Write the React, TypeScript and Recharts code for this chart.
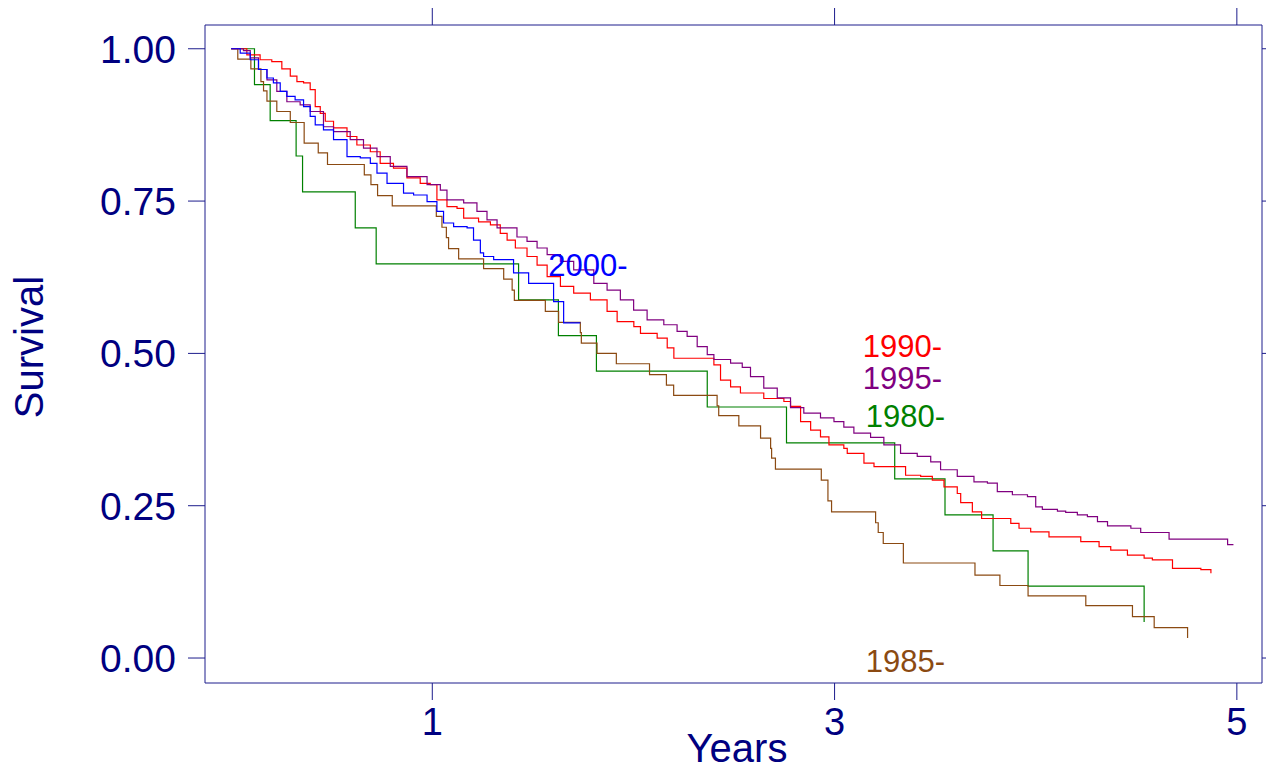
import React from "react";
import { LineChart, Line, XAxis, YAxis, ReferenceDot, Label } from "recharts";

const NAVY = "#000080";
const FRAME = "#1c1c8c";
const FONT = "'Liberation Sans', Arial, sans-serif";

// Kaplan-Meier steps per diagnosis cohort: time in years, survival fraction
const T_1980 = [0, 0.116, 0.194, 0.323, 0.355, 0.617, 0.721, 1.429, 1.627, 1.816, 2.367, 2.761, 3.299, 3.549, 3.788, 3.962, 4.539];
const S_1980 = [1, 0.941, 0.882, 0.824, 0.765, 0.706, 0.647, 0.588, 0.529, 0.471, 0.412, 0.353, 0.294, 0.235, 0.176, 0.118, 0.059];

const T_1985 = [0, 0.033, 0.098, 0.148, 0.161, 0.178, 0.227, 0.294, 0.363, 0.433, 0.479, 0.662, 0.695, 0.728, 0.801, 1.02, 1.048, 1.07, 1.081, 1.131, 1.255, 1.355, 1.397, 1.408, 1.562, 1.628, 1.736, 1.741, 1.819, 1.915, 2.08, 2.164, 2.2, 2.416, 2.424, 2.524, 2.632, 2.682, 2.687, 2.706, 2.934, 2.967, 2.985, 3.204, 3.217, 3.242, 3.342, 3.698, 3.822, 3.962, 4.249, 4.481, 4.589, 4.755];
const S_1985 = [1, 0.983, 0.967, 0.946, 0.931, 0.914, 0.897, 0.879, 0.845, 0.829, 0.81, 0.793, 0.777, 0.759, 0.742, 0.725, 0.707, 0.69, 0.672, 0.655, 0.639, 0.622, 0.604, 0.587, 0.569, 0.551, 0.534, 0.517, 0.5, 0.483, 0.465, 0.448, 0.431, 0.414, 0.398, 0.381, 0.361, 0.344, 0.328, 0.31, 0.292, 0.258, 0.24, 0.222, 0.206, 0.188, 0.156, 0.136, 0.119, 0.102, 0.086, 0.068, 0.05, 0.033];

const T_1990 = [0, 0.078, 0.144, 0.202, 0.252, 0.294, 0.327, 0.36, 0.393, 0.418, 0.443, 0.468, 0.509, 0.576, 0.625, 0.692, 0.741, 0.807, 0.874, 0.94, 0.99, 1.023, 1.073, 1.123, 1.156, 1.23, 1.289, 1.338, 1.372, 1.413, 1.471, 1.521, 1.571, 1.637, 1.703, 1.786, 1.869, 1.919, 2.002, 2.035, 2.118, 2.168, 2.201, 2.4, 2.433, 2.483, 2.532, 2.648, 2.748, 2.781, 2.831, 2.881, 2.93, 2.972, 3.046, 3.063, 3.146, 3.196, 3.353, 3.428, 3.486, 3.544, 3.61, 3.627, 3.685, 3.731, 3.876, 3.917, 3.975, 4.066, 4.224, 4.315, 4.373, 4.456, 4.539, 4.58, 4.68, 4.821, 4.871];
const S_1990 = [1, 0.99, 0.982, 0.979, 0.967, 0.955, 0.946, 0.944, 0.933, 0.905, 0.894, 0.881, 0.87, 0.856, 0.842, 0.831, 0.812, 0.804, 0.788, 0.779, 0.777, 0.752, 0.741, 0.738, 0.722, 0.716, 0.711, 0.697, 0.686, 0.673, 0.659, 0.645, 0.626, 0.61, 0.599, 0.588, 0.569, 0.552, 0.544, 0.533, 0.525, 0.509, 0.492, 0.481, 0.456, 0.445, 0.435, 0.426, 0.421, 0.413, 0.388, 0.374, 0.363, 0.35, 0.344, 0.336, 0.32, 0.314, 0.3, 0.298, 0.292, 0.281, 0.27, 0.255, 0.24, 0.229, 0.221, 0.213, 0.207, 0.199, 0.191, 0.183, 0.177, 0.169, 0.164, 0.161, 0.147, 0.145, 0.139];

const T_1995 = [0, 0.061, 0.095, 0.136, 0.178, 0.227, 0.277, 0.343, 0.393, 0.459, 0.509, 0.592, 0.658, 0.725, 0.791, 0.874, 0.974, 1.04, 1.073, 1.156, 1.222, 1.272, 1.322, 1.421, 1.471, 1.521, 1.571, 1.637, 1.703, 1.803, 1.869, 1.935, 2.001, 2.068, 2.151, 2.217, 2.267, 2.317, 2.367, 2.4, 2.483, 2.541, 2.582, 2.648, 2.715, 2.781, 2.847, 2.93, 2.997, 3.046, 3.096, 3.179, 3.245, 3.328, 3.411, 3.478, 3.527, 3.61, 3.693, 3.76, 3.809, 3.884, 3.959, 4.0, 4.033, 4.108, 4.149, 4.207, 4.257, 4.307, 4.357, 4.473, 4.522, 4.663, 4.954, 4.983];
const S_1995 = [1, 0.997, 0.985, 0.966, 0.949, 0.93, 0.913, 0.908, 0.897, 0.872, 0.864, 0.851, 0.837, 0.823, 0.807, 0.79, 0.777, 0.768, 0.752, 0.747, 0.733, 0.719, 0.706, 0.691, 0.684, 0.673, 0.662, 0.651, 0.637, 0.615, 0.604, 0.588, 0.571, 0.555, 0.547, 0.536, 0.528, 0.511, 0.498, 0.49, 0.484, 0.477, 0.462, 0.443, 0.427, 0.411, 0.402, 0.394, 0.388, 0.379, 0.369, 0.362, 0.35, 0.336, 0.331, 0.322, 0.309, 0.298, 0.289, 0.287, 0.273, 0.268, 0.265, 0.248, 0.244, 0.241, 0.239, 0.235, 0.232, 0.224, 0.217, 0.213, 0.206, 0.195, 0.186, 0.186];

const T_2000 = [0, 0.045, 0.095, 0.136, 0.178, 0.21, 0.244, 0.277, 0.318, 0.36, 0.393, 0.418, 0.459, 0.509, 0.576, 0.642, 0.692, 0.725, 0.775, 0.857, 0.907, 0.974, 1.023, 1.056, 1.106, 1.173, 1.205, 1.239, 1.255, 1.305, 1.404, 1.479, 1.603, 1.653, 1.736];
const S_2000 = [1, 0.993, 0.982, 0.966, 0.952, 0.944, 0.93, 0.922, 0.916, 0.905, 0.889, 0.875, 0.867, 0.851, 0.823, 0.821, 0.812, 0.796, 0.779, 0.763, 0.76, 0.749, 0.733, 0.714, 0.708, 0.706, 0.686, 0.665, 0.659, 0.654, 0.632, 0.615, 0.585, 0.55, 0.55];

const X_TICKS = [1, 3, 5];
const Y_TICKS = [0, 0.25, 0.5, 0.75, 1];
const X_DOMAIN: [number, number] = [-0.13, 5.125];
const Y_DOMAIN: [number, number] = [-0.041, 1.039];

const toPoints = (ts: number[], ss: number[]) => ts.map((t, i) => ({ t, s: ss[i] }));

const COHORTS = [
  { name: "1980-", color: "#008000", data: toPoints(T_1980, S_1980), labelAt: [3.155, 0.38] },
  { name: "1985-", color: "#8b4a12", data: toPoints(T_1985, S_1985), labelAt: [3.155, -0.023] },
  { name: "1990-", color: "#ff0000", data: toPoints(T_1990, S_1990), labelAt: [3.14, 0.494] },
  { name: "1995-", color: "#800080", data: toPoints(T_1995, S_1995), labelAt: [3.14, 0.441] },
  { name: "2000-", color: "#0000ff", data: toPoints(T_2000, S_2000), labelAt: [1.577, 0.627] },
];

const XTick = (props: any) => {
  const { x, y, payload } = props;
  return (
    <text x={x} y={y} dy="0.71em" textAnchor="middle" fill={NAVY} fontSize={38} fontFamily={FONT}>
      {payload.value}
    </text>
  );
};

const YTick = (props: any) => {
  const { x, y, payload } = props;
  return (
    <text x={x} y={y} dy="0.36em" textAnchor="end" fill={NAVY} fontSize={39} fontFamily={FONT}>
      {Number(payload.value).toFixed(2)}
    </text>
  );
};

// tick marks only, no text (top and right sides of the frame)
const NoText = () => <g />;

export default function App() {
  return (
    <div style={{ position: "absolute", left: 0, top: 0, background: "#fff" }}>
      <LineChart width={1266} height={767} margin={{ top: 0, right: 0, bottom: 0, left: 0 }}>
        <XAxis
          xAxisId="b"
          dataKey="t"
          type="number"
          domain={X_DOMAIN}
          allowDataOverflow
          ticks={X_TICKS}
          height={84}
          tickSize={17}
          tickMargin={8}
          stroke={FRAME}
          tick={<XTick />}
        >
          <Label
            content={() => (
              <text x={737} y={762} textAnchor="middle" fill={NAVY} fontSize={40} fontFamily={FONT}>
                Years
              </text>
            )}
          />
        </XAxis>
        <XAxis
          xAxisId="t"
          orientation="top"
          dataKey="t"
          type="number"
          domain={X_DOMAIN}
          allowDataOverflow
          ticks={X_TICKS}
          height={25}
          tickSize={17}
          stroke={FRAME}
          tick={<NoText />}
        />
        <YAxis
          yAxisId="l"
          type="number"
          domain={Y_DOMAIN}
          allowDataOverflow
          ticks={Y_TICKS}
          width={205}
          tickSize={17}
          tickMargin={12}
          stroke={FRAME}
          tick={<YTick />}
        >
          <Label
            content={() => (
              <text
                x={43}
                y={347}
                transform="rotate(-90 43 347)"
                textAnchor="middle"
                fill={NAVY}
                fontSize={40}
                fontFamily={FONT}
              >
                Survival
              </text>
            )}
          />
        </YAxis>
        <YAxis
          yAxisId="r"
          orientation="right"
          type="number"
          domain={Y_DOMAIN}
          allowDataOverflow
          ticks={Y_TICKS}
          width={4}
          tickSize={17}
          stroke={FRAME}
          tick={<NoText />}
        />
        {COHORTS.map((c) => (
          <Line
            key={c.name}
            xAxisId="b"
            yAxisId="l"
            data={c.data}
            dataKey="s"
            type="stepAfter"
            stroke={c.color}
            strokeWidth={1.2}
            dot={false}
            activeDot={false}
            isAnimationActive={false}
          />
        ))}
        {COHORTS.map((c) => (
          <ReferenceDot
            key={"lbl" + c.name}
            xAxisId="b"
            yAxisId="l"
            x={c.labelAt[0]}
            y={c.labelAt[1]}
            ifOverflow="visible"
            shape={(p: any) => (
              <text x={p.cx} y={p.cy} fill={c.color} fontSize={31} fontFamily={FONT}>
                {c.name}
              </text>
            )}
          />
        ))}
      </LineChart>
    </div>
  );
}
